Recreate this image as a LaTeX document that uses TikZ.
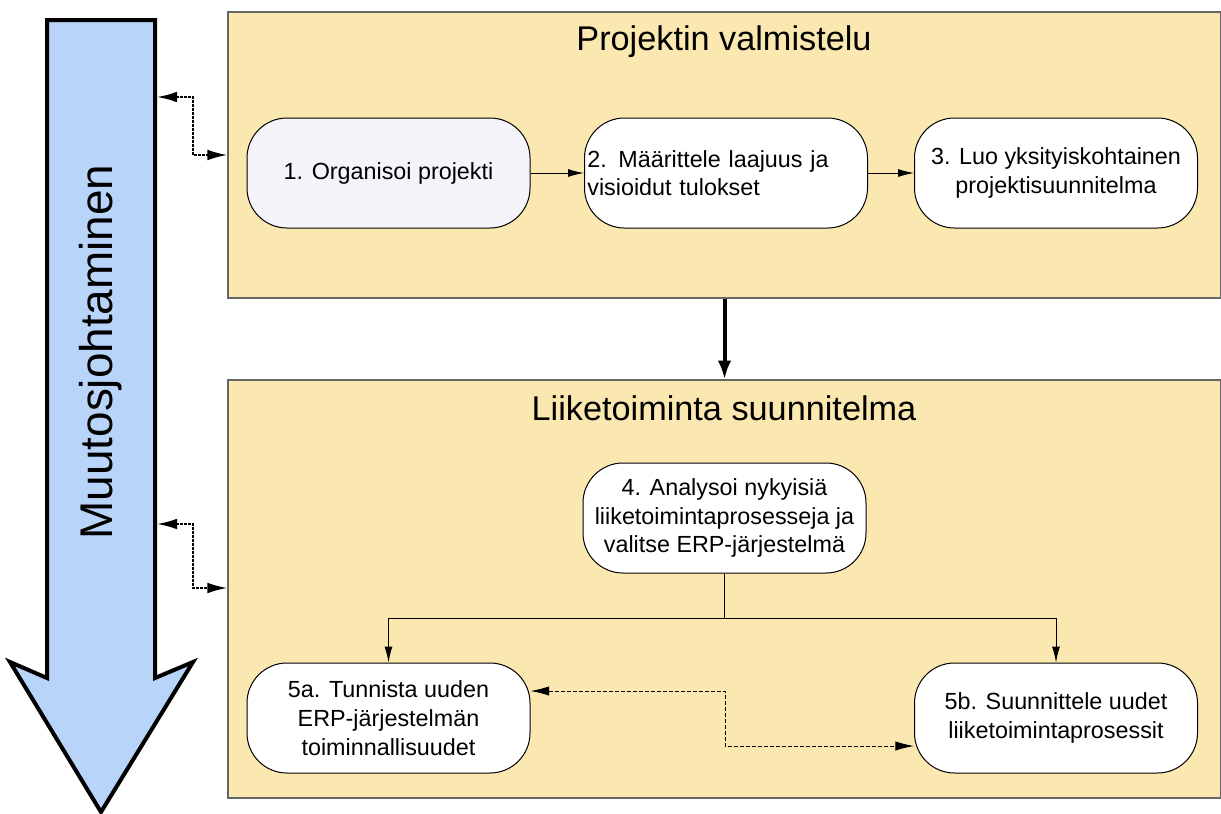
\documentclass[tikz,border=0pt]{standalone}
\usepackage{fontspec}
\setmainfont{Liberation Sans}
\usetikzlibrary{arrows.meta}
\definecolor{panelfill}{HTML}{FBE8B0}
\definecolor{arrowfill}{HTML}{B8D4F8}
\definecolor{firstfill}{HTML}{F4F4FA}
\begin{document}
\begin{tikzpicture}[x=0.75pt,y=-0.75pt,
  panel/.style={draw=black!60,line width=0.9pt,fill=panelfill,minimum width=744.75pt,inner sep=0pt},
  stepbox/.style={draw=black,line width=0.75pt,fill=white,rounded corners=30pt,minimum width=212.25pt,minimum height=82.5pt,align=center,font=\fontsize{17.5}{21.5}\selectfont,inner sep=2pt},
  ttl/.style={font=\fontsize{25.7}{30}\selectfont},
  flow/.style={draw=black,line width=0.75pt,-{Latex[length=12pt,width=6pt]}},
  bigflow/.style={draw=black,line width=3pt,-{Latex[length=14pt,width=10pt]}},
  link/.style={draw=black,line width=1.5pt,dash pattern=on 2pt off 1pt,{Latex[length=15pt,width=8pt]}-{Latex[length=15pt,width=8pt]}},
  thinlink/.style={draw=black,line width=0.75pt,dash pattern=on 3pt off 1.5pt,{Latex[length=14pt,width=7pt]}-{Latex[length=14pt,width=7pt]}}
]
\useasboundingbox (0,0) rectangle (1221,814);
% panels
\node[panel,minimum height=214.5pt] (p1) at (724.5,155) {};
\node[panel,minimum height=313.5pt] (p2) at (724.5,589) {};
\node[ttl] (t1) at (724,42) {Projektin valmistelu};
\node[ttl] (t2) at (724,408) {Liiketoiminta suunnitelma};
% big arrow
\draw[line width=3pt,line join=miter,fill=arrowfill]
  (47,20) -- (155,20) -- (155,678) -- (193,662) -- (101,812) -- (10,662) -- (47,678) -- cycle;
\node[rotate=90,font=\fontsize{34.4}{40}\selectfont] (mj) at (101,352) {Muutosjohtaminen};
\coordinate (a1) at (157,97);
\coordinate (a2) at (157,524);
% steps
\node[stepbox,fill=firstfill] (s1) at (388.5,173) {1. Organisoi projekti};
\node[stepbox,align=left,text width=208pt,inner xsep=2pt] (s2) at (726,173) {2. Määrittele laajuus ja\\visioidut tulokset};
\node[stepbox] (s3) at (1056,173) {3. Luo yksityiskohtainen\\projektisuunnitelma};
\node[stepbox] (s4) at (724.5,518) {4. Analysoi nykyisiä\\liiketoimintaprosesseja ja\\valitse ERP-järjestelmä};
\node[stepbox] (s5a) at (388.5,718) {5a. Tunnista uuden\\ERP-järjestelmän\\toiminnallisuudet};
\node[stepbox] (s5b) at (1056,718) {5b. Suunnittele uudet\\liiketoimintaprosessit};
% connectors
\draw[flow] (s1) -- (s2);
\draw[flow] (s2) -- (s3);
\draw[bigflow] (p1.south) -- (p2.north);
\draw[flow] (s4.south) -- ++(0,45) -| (s5a.north);
\draw[flow] (s4.south) -- ++(0,45) -| (s5b.north);
\draw[thinlink] (s5a.east |- 0,691) -- (725,691) |- (s5b.west |- 0,746);
\draw[link] (a1) -- (193,97) |- (p1.west |- 0,155);
\draw[link] (a2) -- (193,524) |- (p2.west |- 0,588);
\end{tikzpicture}
\end{document}
